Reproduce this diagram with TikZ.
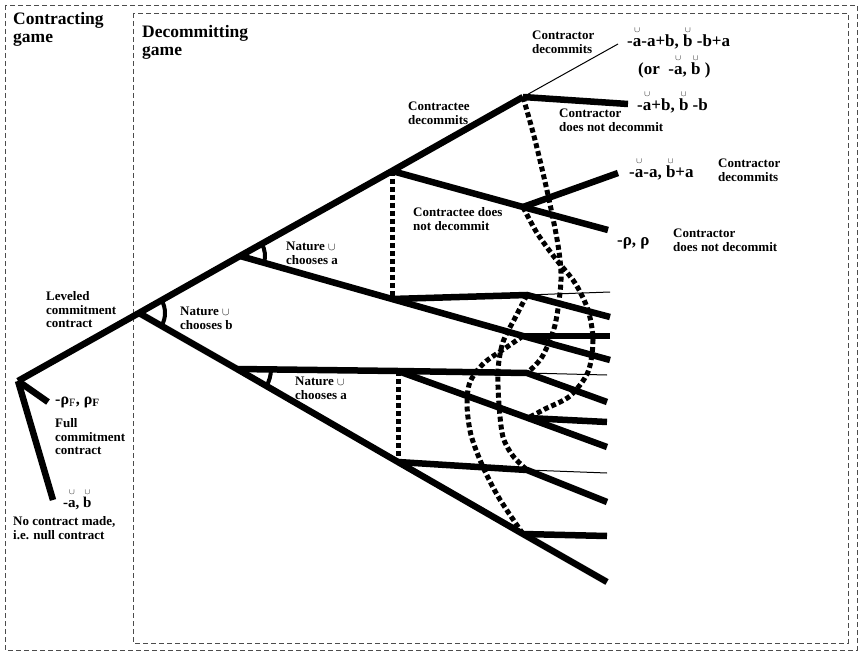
\documentclass[tikz,border=0pt]{standalone}
\usepackage{fontspec}
\setmainfont{Liberation Serif}
\newcommand\cupd[1]{\leavevmode\setbox0\hbox{#1}\rlap{\hbox to\wd0{\hss\raisebox{0.84em}{\fontsize{8.5}{8.5}\selectfont$\cup$}\hss}}\box0\relax}
\newcommand\natcup{{\fontsize{11}{11}\selectfont$\cup$}}
\tikzset{
 lab/.style={anchor=north west, inner sep=0pt, align=left, font=\fontsize{13}{13.8}\selectfont\bfseries},
 ttl/.style={anchor=north west, inner sep=0pt, align=left, font=\fontsize{17.5}{18}\selectfont\bfseries},
 pay/.style={anchor=base west, inner sep=0pt, font=\fontsize{17}{19}\selectfont\bfseries},
 br/.style={line width=6.5pt},
 tn/.style={line width=1pt},
 info/.style={line width=5pt, dash pattern=on 5pt off 3pt},
 frame/.style={line width=0.8pt, dash pattern=on 5pt off 3pt, black!70},
 angm/.style={line width=4pt},
}
\begin{document}
\begin{tikzpicture}[x=1pt,y=-1pt]
\useasboundingbox (0,0) rectangle (861,652);
% frames
\draw[frame] (5,5) rectangle (857,650);
\draw[frame] (133,13) rectangle (848,643);
% nodes
\coordinate (R) at (18,381);
\coordinate (L) at (139,313);
\coordinate (N1) at (240,256);
\coordinate (C1) at (392,171);
\coordinate (D1) at (523,97);
\coordinate (Eth1) at (618,44);
\coordinate (E1) at (628,104);
\coordinate (D2) at (523,207);
\coordinate (E2u) at (618,173);
\coordinate (E2) at (608,230);
\coordinate (C2) at (392,299);
\coordinate (D3) at (527,295);
\coordinate (E3t) at (610,292);
\coordinate (E3) at (610,317);
\coordinate (D4) at (523,336);
\coordinate (E4h) at (610,336);
\coordinate (E4) at (610,360);
\coordinate (N2) at (237,369);
\coordinate (C3) at (398,371);
\coordinate (D5) at (527,373);
\coordinate (E5t) at (607,375);
\coordinate (E5) at (607,402);
\coordinate (D6) at (528,418);
\coordinate (E6h) at (607,422);
\coordinate (E6) at (607,447);
\coordinate (C4) at (398,462);
\coordinate (D7) at (527,470);
\coordinate (E7t) at (607,473);
\coordinate (E7) at (607,502);
\coordinate (D8) at (523,534);
\coordinate (E8h) at (607,536);
\coordinate (E8) at (607,582);
\coordinate (RF) at (48,402);
\coordinate (RN) at (53,500);
% branches
\draw[br] (R) -- (L) -- (N1) -- (C1) -- (D1);
\draw[br] (D1) -- (E1);
\draw[tn] (D1) -- (Eth1);
\draw[br] (C1) -- (D2) -- (E2);
\draw[br] (D2) -- (E2u);
\draw[br] (N1) -- (C2) -- (D4) -- (E4);
\draw[br] (D4) -- (E4h);
\draw[br] (C2) -- (D3) -- (E3);
\draw[tn] (D3) -- (E3t);
\draw[br] (L) -- (N2) -- (C4) -- (D8) -- (E8);
\draw[br] (D8) -- (E8h);
\draw[br] (N2) -- (C3) -- (D5) -- (E5);
\draw[tn] (D5) -- (E5t);
\draw[br] (C3) -- (D6) -- (E6);
\draw[br] (D6) -- (E6h);
\draw[br] (C4) -- (D7) -- (E7);
\draw[tn] (D7) -- (E7t);
\draw[br] (R) -- (RF);
\draw[br] (R) -- (RN);
% angle marks
\draw[angm] (L) ++(29.3:26pt) arc[start angle=29.3, end angle=-29.9, radius=26pt];
\draw[angm] (N1) ++(29.3:25pt) arc[start angle=29.3, end angle=-15.7, radius=25pt];
\draw[angm] (N2) ++(-0.7:34pt) arc[start angle=-0.7, end angle=-29.9, radius=34pt];
% information sets
\draw[info] (C1) -- (C2);
\draw[info] (C3) -- (C4);
\draw[info] plot[smooth] coordinates {(D1) (535,140) (548,195) (558,245) (561,280) (555,325) (542,357) (D5)};
\draw[info] plot[smooth] coordinates {(D2) (537,233) (555,258) (575,283) (588,310) (593,340) (588,372) (570,396) (545,409) (D6)};
\draw[info] plot[smooth] coordinates {(D3) (515,318) (503,342) (498,370) (499,405) (503,437) (513,456) (D7)};
\draw[info] plot[smooth] coordinates {(D4) (507,347) (484,363) (470,382) (467,405) (471,435) (483,467) (499,498) (D8)};
% titles
\node[ttl] (tcg) at (13,12) {Contracting\\game};
\node[ttl] (tdg) at (142,25) {Decommitting\\game};
% labels
\node[lab] (lev) at (46,291) {Leveled\\commitment\\contract};
\node[lab] (nb) at (180,307) {Nature \natcup\\chooses b};
\node[lab] (na1) at (286,242) {Nature \natcup\\chooses a};
\node[lab] (na2) at (295,377) {Nature \natcup\\chooses a};
\node[lab] (ced) at (408,102) {Contractee\\decommits};
\node[lab] (cend) at (413,207) {Contractee does\\not decommit};
\node[lab] (cd1) at (532,31) {Contractor\\decommits};
\node[lab] (cnd1) at (559,109) {Contractor\\does not decommit};
\node[lab] (cd2) at (718,159) {Contractor\\decommits};
\node[lab] (cnd2) at (673,229) {Contractor\\does not decommit};
\node[lab] (fcc) at (55,418) {Full\\commitment\\contract};
\node[lab] (ncm) at (13,516) {No contract made,\\i.e. null contract};
% payoffs
\node[pay] (p1) at (627,47) {-\cupd{a}-a+b, \cupd{b} -b+a};
\node[pay] (p1b) at (638,75) {(or\ \ -\cupd{a}, \cupd{b}\ )};
\node[pay] (p2) at (637,111) {-\cupd{a}+b, \cupd{b} -b};
\node[pay] (p3) at (629,178) {-\cupd{a}-a, \cupd{b}+a};
\node[pay] (p4) at (617,246) {-ρ, ρ};
\node[pay, font=\fontsize{16}{18}\selectfont\bfseries] (pf) at (55,404) {-ρ\textsubscript{\mdseries F}, ρ\textsubscript{F}};
\node[pay, font=\fontsize{15}{17}\selectfont\bfseries] (pn) at (63,507) {-\cupd{a}, \cupd{b}};
\end{tikzpicture}
\end{document}
